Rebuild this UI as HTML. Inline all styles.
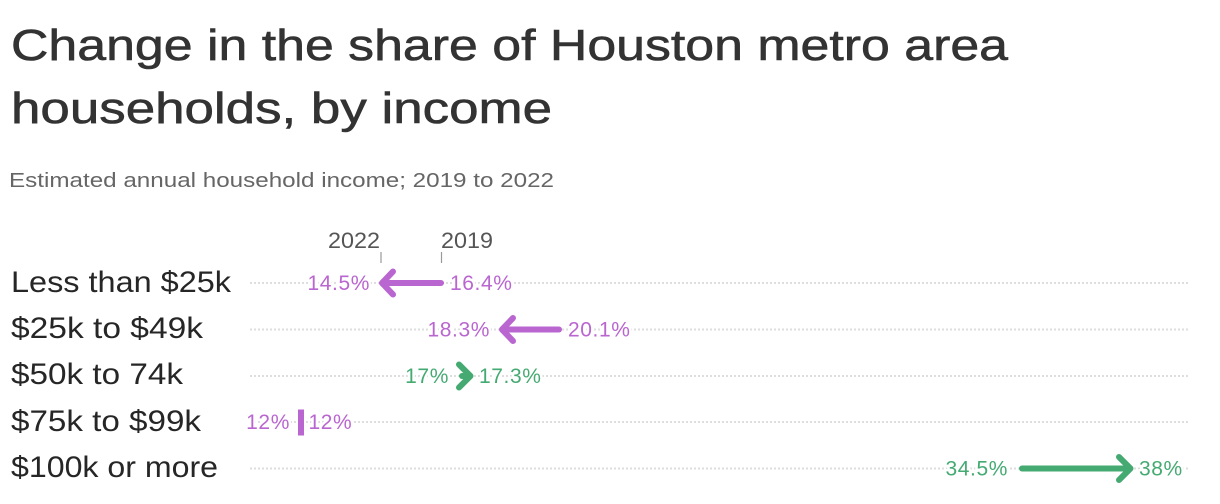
<!DOCTYPE html>
<html>
<head>
<meta charset="utf-8">
<style>
  html, body { margin: 0; padding: 0; background: #ffffff; }
  body { width: 1220px; height: 504px; overflow: hidden; }
  svg { display: block; }
  text { font-family: "Liberation Sans", Arial, sans-serif; }
  .val { font-size: 21px; letter-spacing: 0.6px; paint-order: stroke; stroke: #ffffff; stroke-width: 5px; stroke-linejoin: round; }
  .pu { fill: #b966d0; }
  .gr { fill: #45aa72; }
  .cat { font-size: 30px; fill: #262626; }
  .grid { stroke: #dedede; stroke-width: 2; stroke-dasharray: 2 2; }
  .title { fill: #333333; stroke: #333333; stroke-width: 0.6px; }
</style>
</head>
<body>
<svg width="1220" height="504" viewBox="0 0 1220 504" xmlns="http://www.w3.org/2000/svg">
  <rect width="1220" height="504" fill="#ffffff"/>

  <!-- Title -->
  <text class="title" x="11" y="60" font-size="44" textLength="997" lengthAdjust="spacingAndGlyphs">Change in the share of Houston metro area</text>
  <text class="title" x="11" y="123" font-size="44" textLength="541" lengthAdjust="spacingAndGlyphs">households, by income</text>

  <!-- Subtitle -->
  <text x="9" y="187" font-size="20" fill="#666666" textLength="545" lengthAdjust="spacingAndGlyphs">Estimated annual household income; 2019 to 2022</text>

  <!-- Year header -->
  <text x="380" y="248" font-size="22" fill="#555555" text-anchor="end" textLength="52" lengthAdjust="spacingAndGlyphs">2022</text>
  <text x="441" y="248" font-size="22" fill="#555555" textLength="52" lengthAdjust="spacingAndGlyphs">2019</text>
  <line x1="381" y1="252" x2="381" y2="263" stroke="#999999" stroke-width="1.2"/>
  <line x1="441.5" y1="252" x2="441.5" y2="263" stroke="#999999" stroke-width="1.2"/>

  <!-- Gridlines -->
  <line class="grid" x1="250" y1="283" x2="1188" y2="283"/>
  <line class="grid" x1="250" y1="329.5" x2="1188" y2="329.5"/>
  <line class="grid" x1="250" y1="376" x2="1188" y2="376"/>
  <line class="grid" x1="250" y1="422" x2="1188" y2="422"/>
  <line class="grid" x1="250" y1="468.5" x2="1188" y2="468.5"/>

  <!-- Category labels -->
  <text class="cat" x="11" y="292" textLength="220" lengthAdjust="spacingAndGlyphs">Less than $25k</text>
  <text class="cat" x="11" y="338" textLength="192" lengthAdjust="spacingAndGlyphs">$25k to $49k</text>
  <text class="cat" x="11" y="384" textLength="172" lengthAdjust="spacingAndGlyphs">$50k to 74k</text>
  <text class="cat" x="11" y="431" textLength="190" lengthAdjust="spacingAndGlyphs">$75k to $99k</text>
  <text class="cat" x="11" y="477" textLength="207" lengthAdjust="spacingAndGlyphs">$100k or more</text>

  <!-- Row 1: Less than $25k  16.4 -> 14.5 -->
  <g stroke="#b966d0" stroke-width="6" stroke-linecap="round" stroke-linejoin="round" fill="none">
    <line x1="441" y1="283" x2="383" y2="283"/>
    <polyline points="393,271.5 382,283 393,294.5"/>
  </g>
  <text class="val pu" x="370" y="290" text-anchor="end">14.5%</text>
  <text class="val pu" x="450" y="290">16.4%</text>

  <!-- Row 2: $25k to $49k  20.1 -> 18.3 -->
  <g stroke="#b966d0" stroke-width="6" stroke-linecap="round" stroke-linejoin="round" fill="none">
    <line x1="559" y1="329.5" x2="504" y2="329.5"/>
    <polyline points="513,318 502,329.5 513,341"/>
  </g>
  <text class="val pu" x="490" y="336.5" text-anchor="end">18.3%</text>
  <text class="val pu" x="568" y="336.5">20.1%</text>

  <!-- Row 3: $50k to 74k  17 -> 17.3 -->
  <g stroke="#45aa72" stroke-width="6" stroke-linecap="round" stroke-linejoin="round" fill="none">
    <line x1="462" y1="376" x2="469" y2="376"/>
    <polyline points="459,364.5 470.5,376 459,387.5"/>
  </g>
  <text class="val gr" x="449" y="383" text-anchor="end">17%</text>
  <text class="val gr" x="479" y="383">17.3%</text>

  <!-- Row 4: $75k to $99k  12 -> 12 -->
  <rect x="298" y="409.5" width="6" height="26" fill="#b966d0"/>
  <text class="val pu" x="290" y="429" text-anchor="end">12%</text>
  <text class="val pu" x="308.5" y="429">12%</text>

  <!-- Row 5: $100k or more  34.5 -> 38 -->
  <g stroke="#45aa72" stroke-width="6" stroke-linecap="round" stroke-linejoin="round" fill="none">
    <line x1="1022" y1="468.5" x2="1128" y2="468.5"/>
    <polyline points="1119,457 1130.5,468.5 1119,480"/>
  </g>
  <text class="val gr" x="1008" y="475.5" text-anchor="end">34.5%</text>
  <text class="val gr" x="1139" y="475.5">38%</text>
</svg>
</body>
</html>
